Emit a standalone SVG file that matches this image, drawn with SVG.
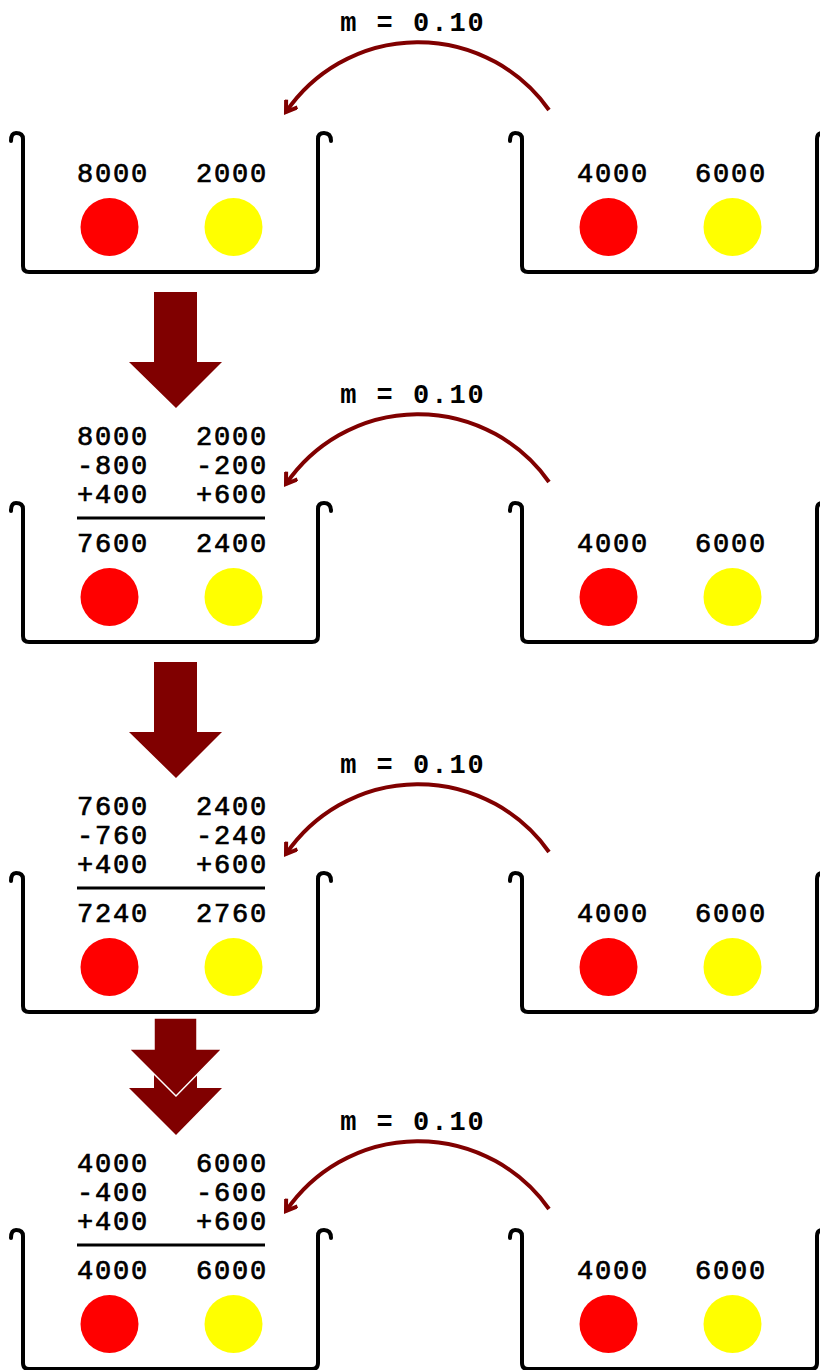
<svg xmlns="http://www.w3.org/2000/svg" width="820" height="1370" viewBox="0 0 820 1370">
<style>
.box{fill:none;stroke:#000;stroke-width:4;stroke-linecap:round;stroke-linejoin:round}
.num{font-family:"Liberation Mono",monospace;font-size:27px;letter-spacing:1.8px;fill:#000;stroke:#000;stroke-width:0.7}
.lbl{font-family:"Liberation Mono",monospace;font-size:27px;font-weight:bold;letter-spacing:2px;fill:#000}
.sum{stroke:#000;stroke-width:3}
.red{fill:#ff0000}
.yel{fill:#ffff00}
.arc{fill:none;stroke:#800000;stroke-width:4;marker-end:url(#ah)}
.big{fill:#800000}
</style>
<defs>
<marker id="ah" markerUnits="userSpaceOnUse" viewBox="0 0 14 14" refX="11" refY="7" markerWidth="16" markerHeight="16" orient="auto">
<path d="M2,1 L11,7 L2,13" fill="none" stroke="#800000" stroke-width="3.5" stroke-linejoin="miter"/>
</marker>
<path id="tub" d="M11,141 Q11,133 16,133 Q23,133 23,139 V266 Q23,272 29,272 H312 Q318,272 318,266 V139 Q318,133 324,133 Q331,133 331,141"/>
</defs>

<g id="panel1-left">
<use href="#tub" class="box"/>
<text class="num" x="77" y="182">8000</text>
<text class="num" x="196" y="182">2000</text>
<circle class="red" cx="109.5" cy="227" r="29"/>
<circle class="yel" cx="233.5" cy="227" r="29"/>
</g>
<g id="panel1-right" transform="translate(499,0)">
<use href="#tub" class="box"/>
<text class="num" x="78" y="182">4000</text>
<text class="num" x="196" y="182">6000</text>
<circle class="red" cx="109.5" cy="227" r="29"/>
<circle class="yel" cx="233.5" cy="227" r="29"/>
</g>

<g id="panel2-left" transform="translate(0,370)">
<use href="#tub" class="box"/>
<text class="num" x="77" y="75">8000</text>
<text class="num" x="196" y="75">2000</text>
<text class="num" x="77" y="104">-800</text>
<text class="num" x="196" y="104">-200</text>
<text class="num" x="77" y="133">+400</text>
<text class="num" x="196" y="133">+600</text>
<line class="sum" x1="77" y1="148" x2="265" y2="148"/>
<text class="num" x="77" y="182">7600</text>
<text class="num" x="196" y="182">2400</text>
<circle class="red" cx="109.5" cy="227" r="29"/>
<circle class="yel" cx="233.5" cy="227" r="29"/>
</g>
<g id="panel2-right" transform="translate(499,370)">
<use href="#tub" class="box"/>
<text class="num" x="78" y="182">4000</text>
<text class="num" x="196" y="182">6000</text>
<circle class="red" cx="109.5" cy="227" r="29"/>
<circle class="yel" cx="233.5" cy="227" r="29"/>
</g>

<g id="panel3-left" transform="translate(0,740)">
<use href="#tub" class="box"/>
<text class="num" x="77" y="75">7600</text>
<text class="num" x="196" y="75">2400</text>
<text class="num" x="77" y="104">-760</text>
<text class="num" x="196" y="104">-240</text>
<text class="num" x="77" y="133">+400</text>
<text class="num" x="196" y="133">+600</text>
<line class="sum" x1="77" y1="148" x2="265" y2="148"/>
<text class="num" x="77" y="182">7240</text>
<text class="num" x="196" y="182">2760</text>
<circle class="red" cx="109.5" cy="227" r="29"/>
<circle class="yel" cx="233.5" cy="227" r="29"/>
</g>
<g id="panel3-right" transform="translate(499,740)">
<use href="#tub" class="box"/>
<text class="num" x="78" y="182">4000</text>
<text class="num" x="196" y="182">6000</text>
<circle class="red" cx="109.5" cy="227" r="29"/>
<circle class="yel" cx="233.5" cy="227" r="29"/>
</g>

<g id="panel4-left" transform="translate(0,1097)">
<use href="#tub" class="box"/>
<text class="num" x="77" y="75">4000</text>
<text class="num" x="196" y="75">6000</text>
<text class="num" x="77" y="104">-400</text>
<text class="num" x="196" y="104">-600</text>
<text class="num" x="77" y="133">+400</text>
<text class="num" x="196" y="133">+600</text>
<line class="sum" x1="77" y1="148" x2="265" y2="148"/>
<text class="num" x="77" y="182">4000</text>
<text class="num" x="196" y="182">6000</text>
<circle class="red" cx="109.5" cy="227" r="29"/>
<circle class="yel" cx="233.5" cy="227" r="29"/>
</g>
<g id="panel4-right" transform="translate(499,1097)">
<use href="#tub" class="box"/>
<text class="num" x="78" y="182">4000</text>
<text class="num" x="196" y="182">6000</text>
<circle class="red" cx="109.5" cy="227" r="29"/>
<circle class="yel" cx="233.5" cy="227" r="29"/>
</g>

<g id="connectors">
<g id="migration1">
<text class="lbl" x="413" y="31" text-anchor="middle">m = 0.10</text>
<path class="arc" d="M549,110 A160,160 0 0 0 286,112"/>
</g>
<g id="migration2" transform="translate(0,372)">
<text class="lbl" x="413" y="31" text-anchor="middle">m = 0.10</text>
<path class="arc" d="M549,110 A160,160 0 0 0 286,112"/>
</g>
<g id="migration3" transform="translate(0,742)">
<text class="lbl" x="413" y="31" text-anchor="middle">m = 0.10</text>
<path class="arc" d="M549,110 A160,160 0 0 0 286,112"/>
</g>
<g id="migration4" transform="translate(0,1099)">
<text class="lbl" x="413" y="31" text-anchor="middle">m = 0.10</text>
<path class="arc" d="M549,110 A160,160 0 0 0 286,112"/>
</g>
<polygon id="step1" class="big" points="154,292 197,292 197,362 222,362 176,408 129,362 154,362"/>
<polygon id="step2" class="big" points="154,662 197,662 197,732 222,732 176,778 129,732 154,732"/>
<g id="step3">
<polygon class="big" points="154,1057 197,1057 197,1088 222,1088 176,1135 129,1088 154,1088"/>
<polygon class="big" stroke="#fff" stroke-width="1.5" points="154,1018 197,1018 197,1049 222,1049 176,1096 129,1049 154,1049"/>
</g>
</g>
</svg>
